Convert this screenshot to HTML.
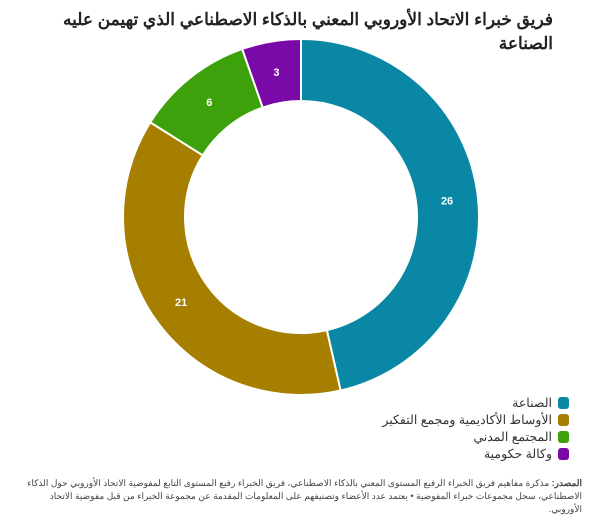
<!DOCTYPE html>
<html><head><meta charset="utf-8"><style>
body{margin:0;background:#fff;width:602px;height:511px;overflow:hidden;font-family:"Liberation Sans","Noto Sans CJK SC",sans-serif;}
#title{position:absolute;right:49px;top:8px;width:540px;direction:rtl;text-align:right;font-weight:bold;font-size:17px;line-height:24px;color:#222;}
#legend{position:absolute;right:33px;top:394px;direction:rtl;}
.li{display:flex;align-items:center;height:17px;font-size:12.5px;color:#333;}
.sw{width:11px;height:12px;border-radius:3px;margin-left:6px;}
#foot{position:absolute;right:20px;top:477px;width:560px;direction:rtl;text-align:right;font-size:9px;line-height:13px;color:#444;}
</style></head><body>
<div id="title">فريق خبراء الاتحاد الأوروبي المعني بالذكاء الاصطناعي الذي تهيمن عليه الصناعة</div>
<svg id="chart" width="602" height="511" style="position:absolute;left:0;top:0"></svg>
<div id="legend"></div>
<div id="foot"><b>المصدر:</b> مذكرة مفاهيم فريق الخبراء الرفيع المستوى المعني بالذكاء الاصطناعي، فريق الخبراء رفيع المستوى التابع لمفوضية الاتحاد الأوروبي حول الذكاء الاصطناعي، سجل مجموعات خبراء المفوضية • يعتمد عدد الأعضاء وتصنيفهم على المعلومات المقدمة عن مجموعة الخبراء من قبل مفوضية الاتحاد الأوروبي.</div>
<script>
const categories=["الصناعة","الأوساط الأكاديمية ومجمع التفكير","المجتمع المدني","وكالة حكومية"];
const values=[26,21,6,3];
const colors=["#0a87a5","#a67f00","#3ca10a","#7a0aa8"];
const cx=301,cy=217,R=178,r=116;
const svg=document.getElementById('chart');
const NS="http://www.w3.org/2000/svg";
const total=values.reduce((a,b)=>a+b,0);
function pt(a,rad){return [cx+rad*Math.sin(a),cy-rad*Math.cos(a)];}
let acc=0;
values.forEach((v,i)=>{
  const a0=acc/total*2*Math.PI;acc+=v;const a1=acc/total*2*Math.PI;
  const large=(a1-a0)>Math.PI?1:0;
  const p0=pt(a0,R),p1=pt(a1,R),q1=pt(a1,r),q0=pt(a0,r);
  const p=document.createElementNS(NS,'path');
  p.setAttribute('d',`M${p0[0]},${p0[1]}A${R},${R} 0 ${large} 1 ${p1[0]},${p1[1]}L${q1[0]},${q1[1]}A${r},${r} 0 ${large} 0 ${q0[0]},${q0[1]}Z`);
  p.setAttribute('fill',colors[i]);p.setAttribute('stroke','#fff');p.setAttribute('stroke-width','2');
  
  
  svg.appendChild(p);
  const m=pt((a0+a1)/2,(R+r)/2);
  const t=document.createElementNS(NS,'text');
  t.setAttribute('x',m[0]);t.setAttribute('y',m[1]+4);t.setAttribute('text-anchor','middle');
  t.setAttribute('font-size','11');t.setAttribute('font-weight','bold');t.setAttribute('fill','#fff');
  t.setAttribute('font-family','Liberation Sans, sans-serif');
  t.textContent=v;
  
  
  svg.appendChild(t);
});
const lg=document.getElementById('legend');
categories.forEach((c,i)=>{
  const d=document.createElement('div');d.className='li';
  
  
  d.innerHTML=`<span class="sw" style="background:${colors[i]}"></span><span>${c}</span>`;
  lg.appendChild(d);
});
</script>
</body></html>
